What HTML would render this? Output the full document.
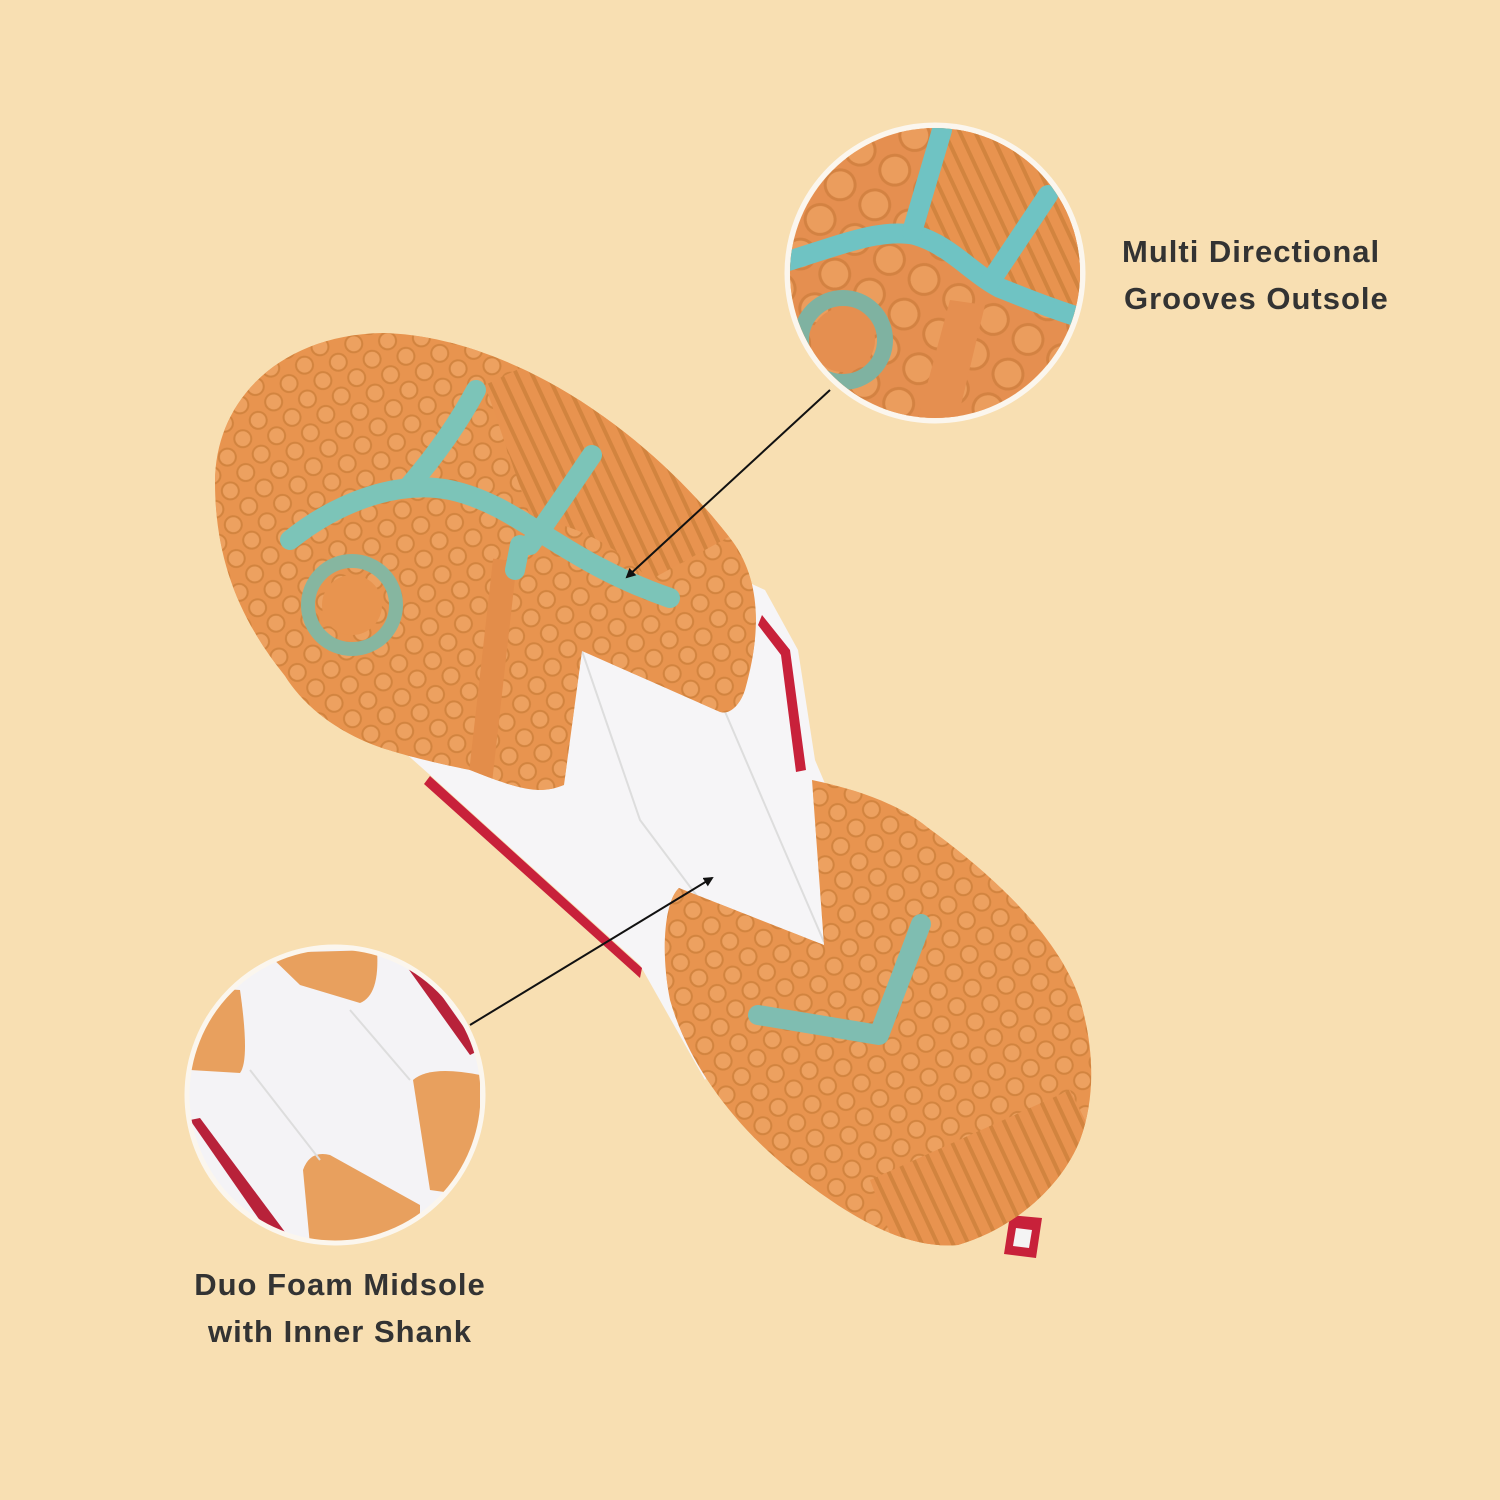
<!DOCTYPE html>
<html><head><meta charset="utf-8"><style>
html,body{margin:0;padding:0;background:#f8dfb2;}
svg{display:block}
text{font-family:"Liberation Sans",sans-serif;font-weight:bold;fill:#333;font-size:31px;letter-spacing:1px}
</style></head><body>
<svg width="1500" height="1500" viewBox="0 0 1500 1500" xmlns="http://www.w3.org/2000/svg">
<defs>
<pattern id="dots" width="24" height="24" patternUnits="userSpaceOnUse" patternTransform="rotate(40)">
<circle cx="12" cy="12" r="8.5" fill="#eda160" stroke="#d2843f" stroke-width="2"/>
</pattern>
<pattern id="dots2" width="40" height="40" patternUnits="userSpaceOnUse" patternTransform="rotate(30)">
<circle cx="20" cy="20" r="15" fill="#eda160" stroke="#cf7f3e" stroke-width="3"/>
</pattern>
<pattern id="lines" width="14" height="14" patternUnits="userSpaceOnUse" patternTransform="rotate(-25)">
<rect width="14" height="14" fill="#e8934f"/><rect width="4" height="14" fill="#d2843f"/>
</pattern>
<path id="toeP" d="M215 482 C215 400 280 335 382 333 C500 335 640 420 733 542 C760 580 762 630 745 690 C740 705 730 715 720 712 L582 651 L564 785 C540 795 520 790 470 770 C420 760 395 752 382 748 C330 730 300 700 285 676 C240 620 215 560 215 482 Z"/>
<path id="heelP" d="M812 780 C860 790 900 805 927 827 C1000 880 1060 940 1080 1000 C1095 1050 1095 1100 1080 1140 C1060 1190 1010 1230 958 1245 C900 1250 840 1210 790 1170 C740 1130 690 1070 670 1000 C660 950 665 900 679 888 L824 945 Z"/>
<clipPath id="toeC"><use href="#toeP"/></clipPath>
<clipPath id="heelC"><use href="#heelP"/></clipPath>
<clipPath id="c1"><circle cx="935" cy="273" r="145"/></clipPath>
<clipPath id="c2"><circle cx="335" cy="1095" r="146"/></clipPath>
<marker id="ah" markerWidth="10" markerHeight="10" refX="8" refY="5" orient="auto" markerUnits="userSpaceOnUse">
<path d="M0,0 L10,5 L0,10 z" fill="#111"/></marker>
</defs>
<rect width="1500" height="1500" fill="#f8dfb2"/>

<!-- heel tab (behind) -->
<path d="M1010 1215 L1042 1218 L1036 1258 L1004 1254 Z" fill="#c8213a"/>
<path d="M1016 1228 L1032 1230 L1029 1248 L1013 1246 Z" fill="#f4f4f4"/>

<!-- midsole white -->
<path d="M385 735 L430 775 L640 965 L705 1080 L760 1000 L835 960 L845 860 L832 800 L815 760 L798 650 L765 590 L700 560 L600 640 Z" fill="#f6f5f7"/>
<!-- red edges -->
<path d="M430 776 L642 968 L640 978 L424 784 Z" fill="#c8213a"/>
<path d="M762 615 L790 650 L806 770 L796 772 L781 655 L758 625 Z" fill="#c8213a"/>
<path d="M582 651 L640 820 L700 900 M720 700 L780 840 L824 942" stroke="#ddd" stroke-width="2" fill="none"/>

<!-- toe orange -->
<use href="#toeP" fill="#e8944f"/>
<g clip-path="url(#toeC)">
<use href="#toeP" fill="url(#dots)"/>
<path d="M485 385 L600 330 L760 520 L650 580 Q600 530 540 520 L600 455 L540 545 Z" fill="url(#lines)"/>
<path d="M505 560 L478 800" stroke="#e38d4a" stroke-width="24"/>
</g>
<g stroke="#7cc4b8" stroke-width="20" stroke-linecap="round" fill="none">
<path d="M290 540 C340 500 400 480 450 490 C520 505 560 560 670 598"/>
<path d="M410 485 C440 450 460 420 476 390"/>
<path d="M530 545 C555 510 575 480 592 455"/>
<path d="M520 545 L515 570"/>
</g>
<circle cx="352" cy="605" r="44" fill="none" stroke="#86b6a0" stroke-width="14"/>
<circle cx="352" cy="605" r="30" fill="#e8944f"/>

<!-- heel orange -->
<use href="#heelP" fill="#e8944f"/>
<g clip-path="url(#heelC)">
<use href="#heelP" fill="url(#dots)"/>
<path d="M870 1180 L1070 1090 L1100 1150 L1000 1260 L900 1260 Z" fill="url(#lines)"/>
</g>
<path d="M758 1015 L879 1035 L921 924" stroke="#7fbdb1" stroke-width="20" stroke-linecap="round" stroke-linejoin="round" fill="none"/>

<!-- connectors -->
<line x1="830" y1="390" x2="627" y2="577" stroke="#111" stroke-width="2" marker-end="url(#ah)"/>
<line x1="470" y1="1025" x2="712" y2="878" stroke="#111" stroke-width="2" marker-end="url(#ah)"/>

<!-- circle 1 -->
<circle cx="935" cy="273" r="150" fill="#fbf3e6"/>
<g clip-path="url(#c1)">
<rect x="780" y="120" width="320" height="320" fill="#e58f50"/>
<rect x="780" y="120" width="320" height="320" fill="url(#dots2)" opacity="0.8"/>
<path d="M945 130 L1080 130 L1100 200 L1090 310 L1010 285 L960 250 L925 230 Z" fill="url(#lines)"/>
<path d="M950 300 L985 305 L955 430 L915 430 Z" fill="#e58f50"/>
<g stroke="#6fc3c3" stroke-width="20" stroke-linecap="round" fill="none">
<path d="M785 262 C840 245 880 228 915 235 C950 245 970 272 1000 288 C1030 300 1060 312 1095 322"/>
<path d="M912 232 L942 130"/>
<path d="M990 282 L1048 195"/>
</g>
<circle cx="843" cy="340" r="42" fill="none" stroke="#7fb2a1" stroke-width="16"/>
<circle cx="843" cy="340" r="32" fill="#e58f50"/>
</g>
<circle cx="935" cy="273" r="148" fill="none" stroke="#fbf6ee" stroke-width="5"/>

<!-- circle 2 -->
<circle cx="335" cy="1095" r="150" fill="#fbf3e6"/>
<g clip-path="url(#c2)">
<rect x="180" y="940" width="320" height="320" fill="#f4f3f6"/>
<path d="M267 953 L377 950 Q380 995 360 1003 L300 985 Z" fill="#e8a05e"/>
<path d="M190 987 L240 990 Q250 1060 240 1073 L190 1070 Z" fill="#e8a05e"/>
<path d="M413 1080 Q430 1065 480 1075 L480 1197 L430 1190 Z" fill="#e8a05e"/>
<path d="M303 1170 Q310 1150 330 1155 L420 1205 L420 1245 L310 1245 Z" fill="#e8a05e"/>
<path d="M407 967 L420 965 L480 1050 L470 1055 Z" fill="#b8223a"/>
<path d="M190 1120 L200 1118 L285 1232 L270 1235 Z" fill="#b8223a"/>
<path d="M250 1070 L320 1160 M350 1010 L410 1080" stroke="#ddd" stroke-width="2"/>
</g>
<circle cx="335" cy="1095" r="148" fill="none" stroke="#fbf6ee" stroke-width="5"/>

<text x="1122" y="262">Multi Directional</text>
<text x="1124" y="309">Grooves Outsole</text>
<text x="340" y="1295" text-anchor="middle">Duo Foam Midsole</text>
<text x="340" y="1342" text-anchor="middle">with Inner Shank</text>
</svg>
</body></html>
